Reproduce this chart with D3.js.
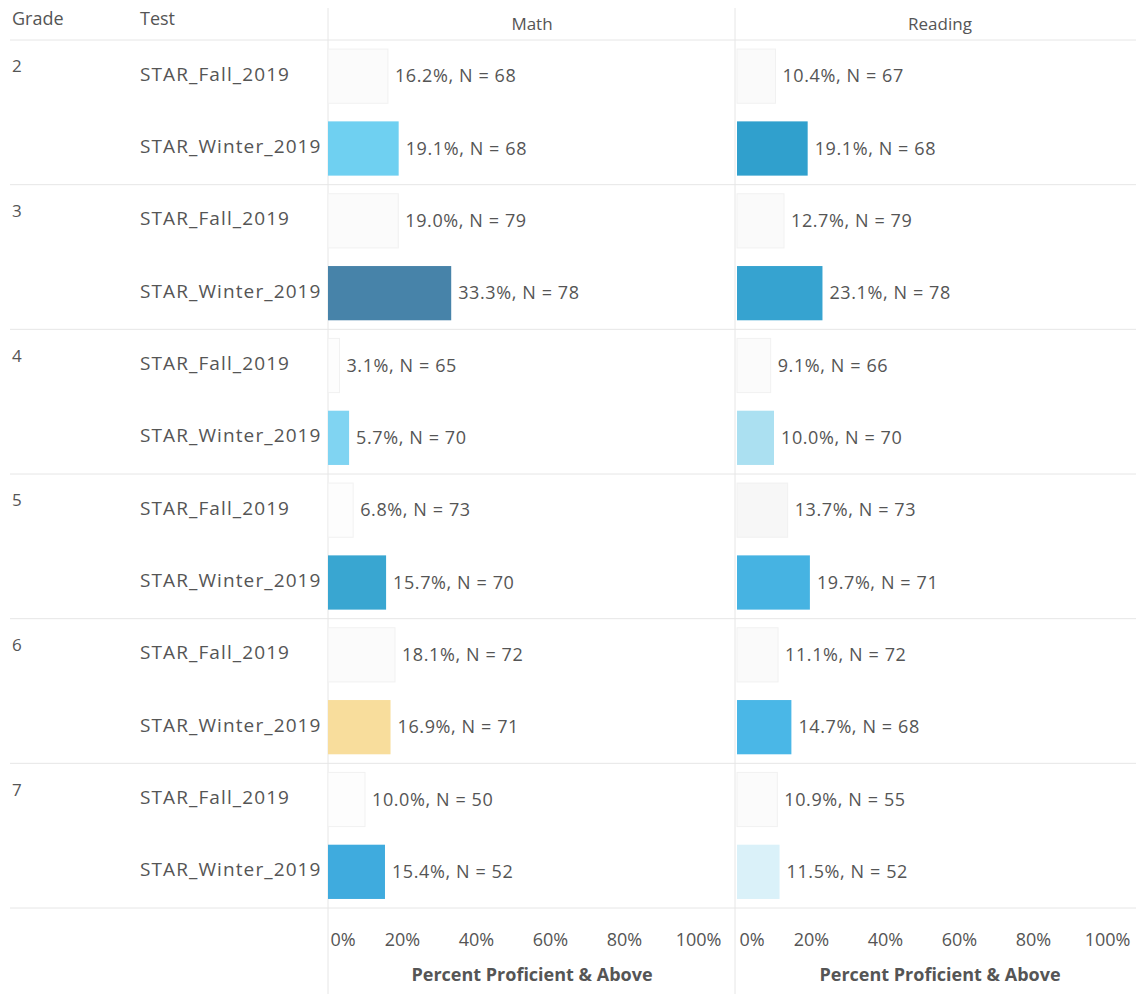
<!DOCTYPE html>
<html>
<head>
<meta charset="utf-8">
<script src="https://cdn.jsdelivr.net/npm/d3@7"></script>
<style>
  body { margin: 0; background: #fff; }
  text { font-family: "Open Sans", "Noto Sans", sans-serif; fill: #555; }
</style>
</head>
<body>
<div id="chart"></div>
<script>
// data
const grades = ['2', '3', '4', '5', '6', '7'];
const tests = ['STAR_Fall_2019', 'STAR_Winter_2019'];
const mathPct = [16.2, 19.1, 19.0, 33.3, 3.1, 5.7, 6.8, 15.7, 18.1, 16.9, 10.0, 15.4];
const mathN = [68, 68, 79, 78, 65, 70, 73, 70, 72, 71, 50, 52];
const readPct = [10.4, 19.1, 12.7, 23.1, 9.1, 10.0, 13.7, 19.7, 11.1, 14.7, 10.9, 11.5];
const readN = [67, 68, 79, 78, 66, 70, 73, 71, 72, 68, 55, 52];
const mathColors = ['#fbfbfb', '#6fd0f1', '#fbfbfb', '#4783a9', '#fdfdfd', '#80d4f2',
  '#fdfdfd', '#39a6d1', '#fbfbfb', '#f8dd9c', '#fdfdfd', '#3fabde'];
const readColors = ['#fafafa', '#30a0cd', '#fafafa', '#36a3d0', '#fbfbfb', '#abe0f1',
  '#f7f7f7', '#46b3e2', '#fafafa', '#4ab7e7', '#fbfbfb', '#daf1f9'];
const tickValues = [0, 0.2, 0.4, 0.6, 0.8, 1];

const width = 1136;
const height = 994;

const rows = d3.range(grades.length * tests.length).map((i)=> ({
  grade: grades[Math.floor(i / tests.length)],
  test: tests[i % tests.length],
  first: i % tests.length === 0,
  i
}));

const svg = d3.select('#chart').append('svg')
  .attr('width', width)
  .attr('height', height);

const plotTop = 40;
const plotBottom = 908;

const y = d3.scaleBand()
  .domain(rows.map((d)=> d.i))
  .range([plotTop, plotBottom])
  .paddingInner(0.25)
  .paddingOuter(0.125);

const panels = [
  {name: 'Math', x0: 328, pct: mathPct, n: mathN, colors: mathColors, titleX: 532},
  {name: 'Reading', x0: 737, pct: readPct, n: readN, colors: readColors, titleX: 940}
];
const paneWidth = 370;

// separators between grades
const gridColor = '#e6e6e6';
svg.append('line')
  .attr('x1', 10).attr('x2', width)
  .attr('y1', plotTop).attr('y2', plotTop)
  .attr('stroke', gridColor);
grades.forEach((g, gi)=> {
  const yy = plotTop + (plotBottom - plotTop) / grades.length * (gi + 1);
  svg.append('line')
    .attr('x1', 10).attr('x2', width)
    .attr('y1', yy).attr('y2', yy)
    .attr('stroke', gridColor);
});
[328, 735].forEach((xx)=> {
  svg.append('line')
    .attr('x1', xx).attr('x2', xx)
    .attr('y1', 8).attr('y2', height)
    .attr('stroke', gridColor);
});

// header
svg.append('text').attr('x', 12).attr('y', 25).attr('font-size', 18).text('Grade');
svg.append('text').attr('x', 140).attr('y', 25).attr('font-size', 18).text('Test');

// row labels
svg.append('g').selectAll('text.grade')
  .data(rows.filter((d)=> d.first))
  .join('text')
  .attr('x', 12)
  .attr('y', (d)=> y(d.i) + y.bandwidth() / 2 - 4)
  .attr('font-size', 17)
  .attr('fill', '#777')
  .text((d)=> d.grade);

svg.append('g').selectAll('text.test')
  .data(rows)
  .join('text')
  .attr('x', 140)
  .attr('y', (d)=> y(d.i) + y.bandwidth() / 2 - 2)
  .attr('dy', '0.35em')
  .attr('font-size', 19)
  .attr('letter-spacing', 1.1)
  .text((d)=> d.test);

panels.forEach((p)=> {
  const x = d3.scaleLinear().domain([0, 1]).range([p.x0, p.x0 + paneWidth]);
  const g = svg.append('g');

  svg.append('text')
    .attr('x', p.titleX)
    .attr('y', 30)
    .attr('text-anchor', 'middle')
    .attr('font-size', 17)
    .attr('fill', '#888')
    .text(p.name);

  g.selectAll('rect')
    .data(rows)
    .join('rect')
    .attr('x', x(0))
    .attr('y', (d)=> y(d.i))
    .attr('width', (d)=> x(p.pct[d.i] / 100) - x(0))
    .attr('height', y.bandwidth())
    .attr('fill', (d)=> p.colors[d.i])
    .attr('stroke', (d)=> d.first ? '#f1f1f1' : 'none');

  g.selectAll('text')
    .data(rows)
    .join('text')
    .attr('x', (d)=> x(p.pct[d.i] / 100) + 7)
    .attr('y', (d)=> y(d.i) + y.bandwidth() / 2)
    .attr('dy', '0.35em')
    .attr('font-size', 18)
    .attr('letter-spacing', 0.6)
    .attr('fill', '#4d4d4d')
    .text((d)=> `${p.pct[d.i].toFixed(1)}%, N = ${p.n[d.i]}`);

  const axis = d3.axisBottom(x)
    .tickValues(tickValues)
    .tickFormat(d3.format('.0%'))
    .tickSize(0)
    .tickPadding(0);

  const ag = svg.append('g')
    .attr('transform', `translate(0,${plotBottom + 32})`)
    .call(axis);
  ag.select('.domain').remove();
  ag.selectAll('text')
    .attr('font-size', 18)
    .attr('fill', '#666')
    .attr('dy', '0.35em')
    .attr('text-anchor', (d)=> d === 0 ? 'start' : 'middle')
    .attr('dx', (d)=> d === 0 ? 2 : 0);

  svg.append('text')
    .attr('x', p.titleX)
    .attr('y', plotBottom + 73)
    .attr('text-anchor', 'middle')
    .attr('font-size', 18)
    .attr('font-weight', 'bold')
    .attr('fill', '#555')
    .text('Percent Proficient & Above');
});
</script>
</body>
</html>
